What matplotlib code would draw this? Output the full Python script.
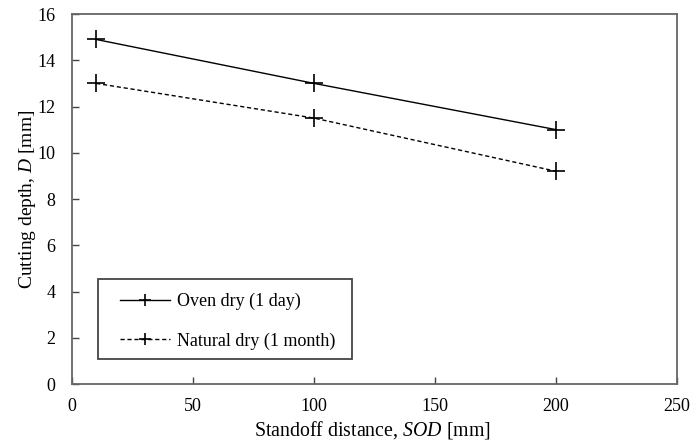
import matplotlib.pyplot as plt
from matplotlib.patches import Rectangle

plt.rcParams['font.family'] = ['Liberation Serif', 'DejaVu Serif']
plt.rcParams['mathtext.fontset'] = 'custom'
plt.rcParams['mathtext.it'] = 'Liberation Serif:italic'
plt.rcParams['mathtext.rm'] = 'Liberation Serif'

# data
sod = [10, 100, 200]
oven_dry = [14.9, 13.0, 11.0]
natural_dry = [13.0, 11.5, 9.2]

W, H = 696, 442
fig = plt.figure(figsize=(W / 100, H / 100), dpi=100)
ax = fig.add_axes([0.1034, 0.1312, 0.8693, 0.8371])

ax.plot(sod, oven_dry, color='black', linestyle='-', linewidth=1.0,
        marker='+', markersize=13, markeredgewidth=1.2, label='Oven dry (1 day)')
ax.plot(sod, natural_dry, color='black', linestyle=(0, (3, 2)), linewidth=1.0,
        marker='+', markersize=13, markeredgewidth=1.2, label='Natural dry (1 month)')

ax.set_xlim(0, 250)
ax.set_ylim(0, 16)
ax.set_xticks(range(0, 251, 50))
ax.set_yticks(range(0, 17, 2))
ax.tick_params(direction='in', length=5, width=1, labelsize=13, color='#444444')
ax.tick_params(axis='y', pad=12)
ax.tick_params(axis='x', pad=10)
for sp in ax.spines.values():
    sp.set_color('#666666')
    sp.set_linewidth(1.3)

ax.set_ylabel('Cutting depth, $\\mathit{D}$ [mm]', fontsize=14, va='center')
ax.yaxis.set_label_coords(-0.074, 0.5)
fig.text(0.5345, 0.002, 'Standoff distance, $\\mathit{SOD}$ [mm]', fontsize=14.3,
         ha='center', va='bottom')

# legend box drawn separately, entries placed inside it
fig.patches.append(Rectangle((98 / W, 1 - 359 / H), 254 / W, 80 / H,
                             transform=fig.transFigure, fill=False,
                             edgecolor='#444444', linewidth=1.3, zorder=5))
leg = ax.legend(loc='upper left', bbox_to_anchor=(120 / W, 1 - 293 / H),
                bbox_transform=fig.transFigure, fontsize=13, frameon=False,
                handlelength=2.77, borderpad=0, labelspacing=1.22,
                handletextpad=0.39, borderaxespad=0, markerscale=0.65)

fig.savefig('out.png', dpi=100)
